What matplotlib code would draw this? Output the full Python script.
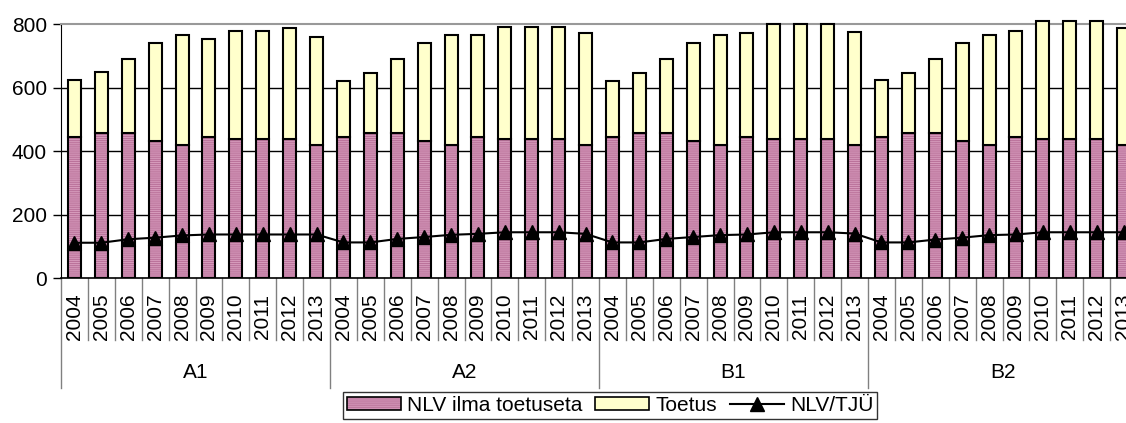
import numpy as np
import matplotlib
matplotlib.use("Agg")
import matplotlib.pyplot as plt
from matplotlib.patches import Patch
from matplotlib.lines import Line2D

plt.rcParams["font.family"] = ["Liberation Sans", "DejaVu Sans"]
plt.rcParams["hatch.linewidth"] = 0.8

# ---------------------------------------------------------------------------
# Data
# ---------------------------------------------------------------------------
years = ["2004", "2005", "2006", "2007", "2008", "2009", "2010", "2011", "2012", "2013"]
groups = ["A1", "A2", "B1", "B2"]

nlv_a1 = [445, 457, 457, 433, 420, 445, 438, 438, 438, 420]
nlv_a2 = [445, 457, 457, 433, 420, 445, 438, 438, 438, 420]
nlv_b1 = [445, 457, 457, 433, 420, 445, 438, 438, 438, 420]
nlv_b2 = [445, 457, 457, 433, 420, 445, 438, 438, 438, 420]

toetus_a1 = [180, 193, 235, 309, 347, 310, 342, 342, 349, 340]
toetus_a2 = [177, 191, 233, 308, 346, 321, 353, 353, 353, 352]
toetus_b1 = [177, 191, 233, 308, 346, 327, 362, 362, 362, 357]
toetus_b2 = [178, 191, 233, 308, 346, 333, 372, 372, 372, 369]

tju_a1 = [112, 112, 123, 128, 135, 138, 138, 138, 138, 138]
tju_a2 = [113, 113, 124, 130, 137, 140, 145, 145, 145, 140]
tju_b1 = [113, 113, 124, 130, 136, 138, 145, 145, 145, 141]
tju_b2 = [113, 113, 122, 128, 136, 138, 145, 145, 145, 145]

nlv = np.array(nlv_a1 + nlv_a2 + nlv_b1 + nlv_b2, float)
toetus = np.array(toetus_a1 + toetus_a2 + toetus_b1 + toetus_b2, float)
tju = np.array(tju_a1 + tju_a2 + tju_b1 + tju_b2, float)
x = np.arange(len(nlv))
n_years = len(years)

PINK = "#D79CBD"
PINK_HATCH = "#BB739B"
YELLOW = "#FFFFCC"

# ---------------------------------------------------------------------------
# Figure / axes layout (pixel based, 1126x423)
# ---------------------------------------------------------------------------
W, H = 1126, 423
fig = plt.figure(figsize=(W / 100, H / 100), dpi=100)
ax_left, ax_top, ax_bottom = 61, 24.3, 278.3
cat_w = 26.9
ax_w = cat_w * len(x)
ax = fig.add_axes([ax_left / W, (H - ax_bottom) / H, ax_w / W, (ax_bottom - ax_top) / H])
ax_h_px = ax_bottom - ax_top

bw = 0.48
# bottom series: hatched fill + black outline
ax.bar(x, nlv, bw, color=PINK, edgecolor=PINK_HATCH, hatch="--------", linewidth=0, zorder=2)
ax.bar(x, nlv, bw, fill=False, edgecolor="black", linewidth=1.5, zorder=3)
ax.bar(x, toetus, bw, bottom=nlv, color=YELLOW, edgecolor="black", linewidth=1.5,
       zorder=3, clip_on=False)

ax.plot(x, tju, "-", color="black", linewidth=1.5, marker="^", markersize=10,
        markerfacecolor="black", zorder=5)

ax.set_xlim(-0.5, len(x) - 0.5)
ax.set_ylim(0, 800)
ax.set_yticks([0, 200, 400, 600, 800])
ax.tick_params(axis="y", labelsize=15, length=6, width=1, color="black", pad=4)
for yv in [200, 400, 600]:
    ax.axhline(yv, color="black", linewidth=1, zorder=1)

ax.spines["right"].set_visible(False)
ax.spines["top"].set_color("#999999")
ax.spines["top"].set_linewidth(1.5)
ax.spines["left"].set_color("black")
ax.spines["bottom"].set_color("black")
ax.spines["bottom"].set_linewidth(1.2)

# year labels + separators below the axis
ax.set_xticks(x)
ax.set_xticklabels(years * len(groups), rotation=90, fontsize=15, va="top")
ax.tick_params(axis="x", length=0, pad=11)

trans = ax.get_xaxis_transform()
yr_line = -(340 - ax_bottom) / ax_h_px
grp_line = -(388 - ax_bottom) / ax_h_px
grp_text = -(372 - ax_bottom) / ax_h_px
for b in range(len(x) + 1):
    xb = b - 0.5
    y_end = grp_line if b % n_years == 0 else yr_line
    ax.plot([xb, xb], [0, y_end], transform=trans, color="#808080", linewidth=1,
            clip_on=False, zorder=1)
for g, name in enumerate(groups):
    ax.text(g * n_years + (n_years - 1) / 2, grp_text, name, transform=trans,
            ha="center", va="center", fontsize=15)

# legend
h_nlv = (Patch(facecolor=PINK, edgecolor=PINK_HATCH, hatch="--------", linewidth=0),
         Patch(fill=False, edgecolor="black", linewidth=1.2))
h_toe = Patch(facecolor=YELLOW, edgecolor="black", linewidth=1.2)
h_tju = Line2D([], [], color="black", linewidth=1.5, marker="^", markersize=10)
leg = fig.legend([h_nlv, h_toe, h_tju], ["NLV ilma toetuseta", "Toetus", "NLV/TJÜ"],
                 loc="center", bbox_to_anchor=(610 / W, (H - 405.5) / H),
                 bbox_transform=fig.transFigure, ncol=3, fontsize=15,
                 frameon=True, fancybox=False, handlelength=2.6, handleheight=0.6,
                 handletextpad=0.3, columnspacing=0.6, borderpad=0.2,
                 borderaxespad=0)
leg.get_frame().set_edgecolor("black")
leg.get_frame().set_linewidth(1.0)

fig.savefig("out.png", dpi=100)
